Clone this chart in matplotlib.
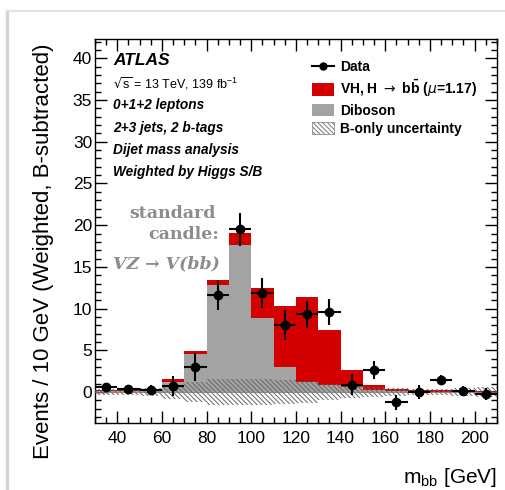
import numpy as np
import matplotlib
matplotlib.use("Agg")
import matplotlib.pyplot as plt
from matplotlib.lines import Line2D
from matplotlib.patches import Patch
from matplotlib.ticker import MultipleLocator

# ---- data ----
bin_edges = [30, 40, 50, 60, 70, 80, 90, 100, 110, 120, 130, 140, 150, 160, 170, 180, 190, 200, 210]
diboson = [0.1, 0.15, 0.2, 1.2, 4.5, 12.8, 17.6, 8.9, 3.0, 1.2, 0.8, 0.6, 0.3, 0.1, 0.1, 0.05, 0.05, 0.05]
vh = [0.15, 0.15, 0.2, 0.3, 0.4, 0.6, 1.5, 3.6, 7.3, 10.2, 6.6, 2.0, 0.6, 0.3, 0.15, 0.15, 0.1, 0.05]
band = [0.4, 0.4, 0.5, 0.8, 1.2, 1.5, 1.6, 1.5, 1.4, 1.3, 1.0, 0.7, 0.6, 0.5, 0.4, 0.4, 0.5, 0.6]
data_x = [35, 45, 55, 65, 75, 85, 95, 105, 115, 125, 135, 145, 155, 165, 175, 185, 195, 205]
data_y = [0.55, 0.4, 0.2, 0.7, 3.0, 11.6, 19.5, 11.9, 8.0, 9.3, 9.6, 0.9, 2.6, -1.2, 0.0, 1.4, 0.1, -0.2]
data_err = [0.4, 0.5, 0.6, 1.2, 1.7, 1.8, 2.0, 1.8, 1.8, 1.6, 1.6, 1.3, 1.1, 0.9, 0.8, 0.6, 0.6, 0.7]

RED = "#d40000"
GRAY = "#a3a3a3"
HATCH = '\\' * 7

plt.rcParams['font.family'] = ['Liberation Sans', 'DejaVu Sans']
plt.rcParams['hatch.linewidth'] = 0.7

fig = plt.figure(figsize=(5.05, 4.9), dpi=100)
ax = fig.add_axes([0.188, 0.137, 0.796, 0.783])

edges = np.array(bin_edges, dtype=float)
dib = np.array(diboson)
tot = dib + np.array(vh)
bnd = np.array(band)

ax.stairs(tot, edges, fill=True, color=RED, baseline=0, zorder=1)
ax.stairs(dib, edges, fill=True, color=GRAY, baseline=0, zorder=2)
ax.stairs(bnd, edges, baseline=-bnd, fill=True, facecolor='none',
          edgecolor='#666666', hatch=HATCH, linewidth=0, zorder=3)
ax.axhline(0, color='#777777', lw=0.6, zorder=3)

ax.errorbar(data_x, data_y, yerr=data_err, xerr=5, fmt='o', color='black',
            ms=6, elinewidth=1.5, capsize=0, zorder=5)

ax.set_xlim(30, 210)
ax.set_ylim(-3.7, 42.3)
ax.xaxis.set_major_locator(MultipleLocator(20))
ax.xaxis.set_minor_locator(MultipleLocator(5))
ax.yaxis.set_major_locator(MultipleLocator(5))
ax.yaxis.set_minor_locator(MultipleLocator(1))
ax.set_xticks(np.arange(40, 201, 20))
ax.tick_params(which='both', direction='in', top=True, right=True)
ax.tick_params(which='major', length=8.5, width=1, labelsize=12.5)
ax.tick_params(which='minor', length=4, width=1)
ax.tick_params(axis='x', pad=6)
ax.tick_params(axis='y', pad=2)
for s in ax.spines.values():
    s.set_linewidth(1.0)

ax.set_ylabel("Events / 10 GeV (Weighted, B-subtracted)", fontsize=16, loc='top')
ax.yaxis.set_label_coords(-0.102, 0.99)
ax.set_xlabel(r"m$_{\mathregular{bb}}$ [GeV]", fontsize=15, loc='right')
ax.xaxis.set_label_coords(1.0, -0.113)

# ATLAS text block
ax.text(0.045, 0.945, "ATLAS", transform=ax.transAxes, fontsize=12.5,
        fontweight='bold', style='italic', va='center')
ax.text(0.045, 0.883, r"$\sqrt{\mathregular{s}}$ = 13 TeV, 139 fb$^{\mathregular{-1}}$",
        transform=ax.transAxes, fontsize=9, va='center')
lines = ["0+1+2 leptons", "2+3 jets, 2 b-tags", "Dijet mass analysis", "Weighted by Higgs S/B"]
ys = [0.828, 0.769, 0.711, 0.654]
for t, y in zip(lines, ys):
    ax.text(0.045, y, t, transform=ax.transAxes, fontsize=9.8,
            fontweight='bold', style='italic', va='center')

# standard candle annotation
cc = '#8c8c8c'
ax.text(0.30, 0.545, "standard", transform=ax.transAxes, fontsize=12.5,
        fontweight='bold', family='DejaVu Serif', color=cc, ha='right', va='center')
ax.text(0.31, 0.49, "candle:", transform=ax.transAxes, fontsize=12.5,
        fontweight='bold', family='DejaVu Serif', color=cc, ha='right', va='center')
ax.text(0.31, 0.414, "VZ → V(bb)", transform=ax.transAxes, fontsize=12.5,
        fontweight='bold', style='italic', family='DejaVu Serif', color=cc,
        ha='right', va='center')

handles = [
    Line2D([0], [0], marker='o', color='black', ms=5, lw=1.5),
    Patch(facecolor=RED),
    Patch(facecolor=GRAY),
    Patch(facecolor='white', edgecolor='#777777', hatch=HATCH, lw=0.5),
]
labels = ["Data", r"VH, H $\rightarrow$ b$\mathregular{\bar{b}}$ ($\mu$=1.17)", "Diboson", "B-only uncertainty"]
leg = ax.legend(handles, labels, loc='upper left', bbox_to_anchor=(0.525, 0.96),
                frameon=False, fontsize=10, handlelength=1.6, handleheight=1.0,
                labelspacing=0.3, handletextpad=0.45, borderaxespad=0)
for t in leg.get_texts():
    t.set_fontweight('bold')

# subtle screenshot frame
fig.add_artist(Line2D([0.014, 0.014], [0, 0.978], transform=fig.transFigure, color='#d5d5d5', lw=2.5))
fig.add_artist(Line2D([0.014, 1.0], [0.978, 0.978], transform=fig.transFigure, color='#e2e2e2', lw=1.5))

fig.savefig("out.png", dpi=100)
